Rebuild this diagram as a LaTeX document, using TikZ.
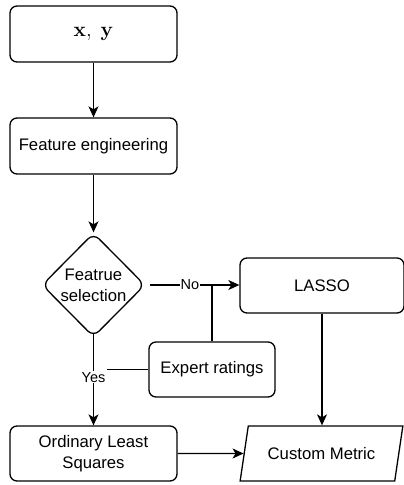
\documentclass[tikz,border=0pt]{standalone}
\usepackage[no-math]{fontspec}
\setmainfont{Liberation Sans}
\usetikzlibrary{arrows.meta,shapes.geometric}
\tikzset{
  box/.style={draw, line width=1.3pt, rounded corners=7pt, minimum width=167pt, minimum height=56pt, inner sep=2pt, align=center, font=\fontsize{16.7}{21}\selectfont},
  dia/.style={draw, diamond, line width=1.3pt, rounded corners=8pt, minimum width=103pt, minimum height=104pt, inner sep=0pt},
  txt/.style={align=center, font=\fontsize{16.7}{21}\selectfont},
  para/.style={draw, trapezium, trapezium left angle=64, trapezium right angle=116, trapezium stretches=true, line width=1.3pt, minimum width=163pt, minimum height=55pt, inner sep=0pt, font=\fontsize{16.7}{21}\selectfont},
  lbl/.style={fill=white, inner sep=1pt, font=\fontsize{14.5}{17}\selectfont},
  conn/.style={line width=1.3pt},
  arr/.style={conn, -{Stealth[length=11pt, width=10pt, inset=3pt]}}
}
\begin{document}
\begin{tikzpicture}[x=1pt, y=-1pt]
\useasboundingbox (0,0) rectangle (404,485);
\node[box, font=\fontsize{20}{24}\selectfont] (xy) at (93.5,34) {$\mathbf{x},\ \mathbf{y}$};
\node[box] (fe) at (93.5,146) {Feature engineering};
\node[dia] (sel) at (93.5,285) {};
\node[txt] (seltxt) at (93.5,285) {Featrue\\selection};
\node[box, minimum width=164pt, minimum height=55pt] (lasso) at (322,285.5) {LASSO};
\node[box, minimum width=126pt, minimum height=55pt] (exp) at (212,369.5) {Expert ratings};
\node[box, minimum height=55pt] (ols) at (93.5,453.5) {Ordinary Least\\Squares};
\node[para] (cm) at (321.5,453.5) {Custom Metric};

\draw[arr] (xy) -- (fe);
\draw[arr] (fe) -- (sel);
\draw[arr] ([xshift=4pt]sel.east) -- node[lbl, pos=0.45] (no) {No} (lasso.west |- sel.east);
\draw[conn] (exp.north) -- (exp.north |- sel.east);
\draw[arr] ([yshift=5pt]sel.south) -- node[lbl, pos=0.48] (yes) {Yes} (ols.north);
\draw[conn] (exp.west) -- (exp.west -| yes.east);
\draw[arr] (lasso.south) -- (lasso.south |- cm.north);
\draw[arr] (ols.east) -- (cm.west);
\end{tikzpicture}
\end{document}
